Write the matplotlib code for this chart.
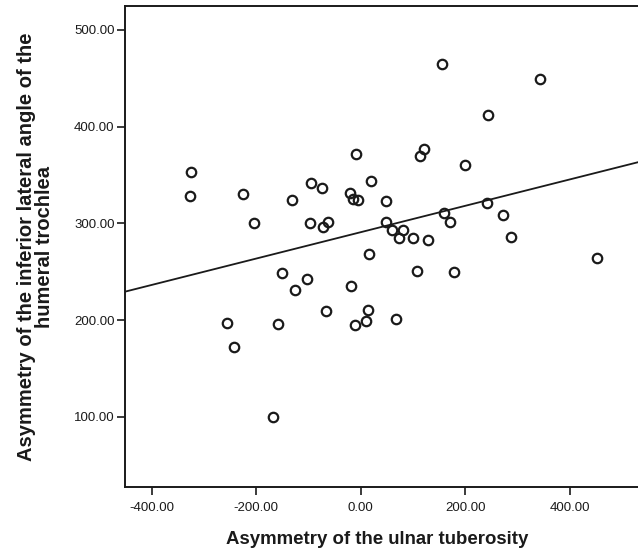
import numpy as np
import matplotlib
matplotlib.use('Agg')
import matplotlib.pyplot as plt

plt.rcParams['font.family'] = ['Liberation Sans', 'DejaVu Sans']

# Datos
ulnar = [-326, -327.6, -225.5, -205, -131, -95.2, -73.6, -96.6, -72.2, -63.2,
         -8.4, -20.5, -14.2, -5.7, 19.0,
         156.3, 343.5, 244.4, 121.8, 114.2, 200.4, 48.5, 48.5, 60, 80.5,
         74, 100.8, 128.4, 159.6, 171.7, 241.4, 273.2, 288.5,
         16.5, -150.8, -102.9, -126.4, -19.2, -67, 13.4, 10.7, -11.5,
         -256, -159, -242.7, -167.4,
         107.9, 178.7, 452, 67.6]
trochlea = [352.9, 328.4, 330.8, 300.5, 324, 342.2, 337, 300.8, 296.7, 301.6,
            371.8, 331.2, 325.3, 324, 343.9,
            464.9, 449.4, 412.1, 377.3, 370.1, 360.5, 323.6, 301.6, 293, 293.3,
            285.3, 285, 283, 311.2, 301.2, 321.2, 309.1, 286.0,
            268.2, 248.5, 243, 231.3, 235.4, 209.9, 210.9, 199.5, 194.8,
            197.2, 196.4, 172.7, 99.7,
            251.2, 249.6, 264, 201]

# Recta de regresion
fit_intercept = 291.0
fit_slope = 0.1362

x_ticks = [-400, -200, 0, 200, 400]
y_ticks = [100, 200, 300, 400, 500]

fig = plt.figure(figsize=(6.38, 5.56), dpi=100)
ax = fig.add_axes([125/638, 1-487/556, 513/638, 481/556])

xlim = (-451.5, 531)
ylim = (27.6, 524.8)

xl = np.array(xlim)
ax.plot(xl, fit_intercept + fit_slope*xl, color='#1a1a1a', lw=1.3)
ax.plot(ulnar, trochlea, 'o', mfc='none', mec='#1a1a1a', ms=6.8, mew=1.6)

ax.set_xlim(xlim)
ax.set_ylim(ylim)
ax.set_xticks(x_ticks)
ax.set_yticks(y_ticks)
ax.set_xticklabels(['%.2f' % v for v in x_ticks])
ax.set_yticklabels(['%.2f' % v for v in y_ticks])
ax.tick_params(labelsize=9.5, length=6, width=1.2, colors='#1a1a1a')
ax.tick_params(axis='x', pad=5)
ax.tick_params(axis='y', pad=1.5)
for s in ['left', 'top', 'bottom']:
    ax.spines[s].set_linewidth(1.4)
    ax.spines[s].set_color('#1a1a1a')
ax.spines['right'].set_visible(False)

ax.set_xlabel('Asymmetry of the ulnar tuberosity', fontsize=13.4,
              fontweight='bold', color='#1a1a1a', va='center')
ax.xaxis.set_label_coords(0.491, -0.110)
ax.set_ylabel('Asymmetry of the inferior lateral angle of the\nhumeral trochlea',
              fontsize=14.5, fontweight='bold', color='#1a1a1a',
              linespacing=0.95, va='center', ha='center')
ax.yaxis.set_label_coords(-0.1745, 0.5)

fig.savefig('out.png', dpi=100)
